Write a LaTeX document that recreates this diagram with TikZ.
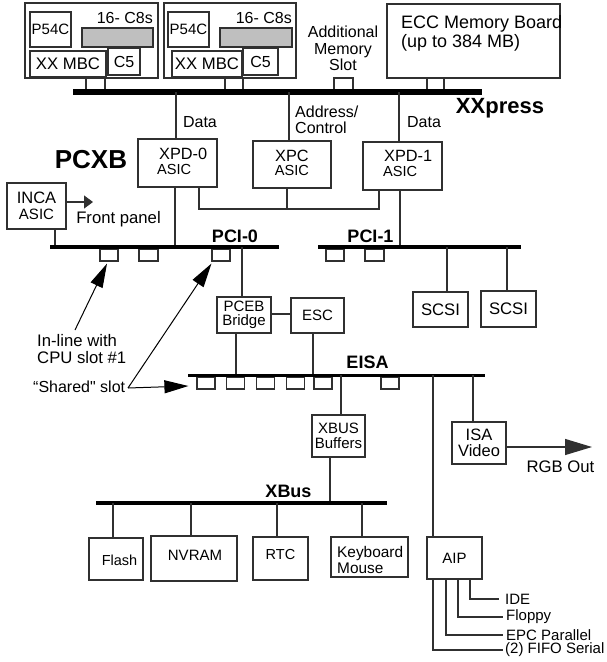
\documentclass[tikz,border=0pt]{standalone}
\usepackage{fontspec}
\setmainfont{Liberation Sans}[Ligatures=TeXOff]
\usetikzlibrary{arrows.meta}
\definecolor{ln}{HTML}{303030}
\definecolor{barfill}{HTML}{BFBFBF}
\tikzset{
  box/.style={draw=ln, line width=1.2pt, inner sep=0pt, align=center},
  slot/.style={draw=ln, line width=1.2pt, inner sep=0pt, minimum width=18pt, minimum height=12pt},
  wire/.style={draw=ln, line width=1.2pt},
  bus/.style={draw=black, line width=3.3pt},
  txt/.style={inner sep=0pt, align=left},
  ctxt/.style={inner sep=0pt, align=center},
  fa/.style={font=\fontsize{15}{14.5}\selectfont},
  fb/.style={font=\fontsize{16}{16.5}\selectfont},
  fc/.style={font=\fontsize{16.7}{17}\selectfont},
  fd/.style={font=\fontsize{18}{19}\selectfont},
  busname/.style={inner sep=0pt, font=\bfseries\fontsize{18}{18}\selectfont},
  annot/.style={draw=black, line width=1pt, -{Triangle[length=24pt,width=13pt]}},
}
\begin{document}
\begin{tikzpicture}[x=1pt,y=-1pt]
\useasboundingbox (0,0) rectangle (606,662);
\fill[white] (0,0) rectangle (606,662);

% ---------- CPU boards ----------
\node[box, minimum width=133pt, minimum height=75pt] (brd1) at (91.5,40.5) {};
\node[box, fa, minimum width=41pt, minimum height=35pt] (p1) at (50.5,29.5) {P54C};
\node[draw=ln, fill=barfill, line width=1.2pt, inner sep=0pt, minimum width=71pt, minimum height=19pt] (g1) at (117.5,37.5) {};
\node[txt, fb, anchor=east] (c8a) at (153,18) {16- C8s};
\node[box, fc, minimum width=76pt, minimum height=26pt] (mbc1) at (68,64) {XX MBC};
\node[box, fb, minimum width=32pt, minimum height=27pt] (c5a) at (124,61.5) {C5};
\node[slot, minimum width=19pt] (s1) at (95.5,84) {};

\node[box, minimum width=132pt, minimum height=75pt] (brd2) at (230,40.5) {};
\node[box, fa, minimum width=41pt, minimum height=35pt] (p2) at (188.5,29.5) {P54C};
\node[draw=ln, fill=barfill, line width=1.2pt, inner sep=0pt, minimum width=72pt, minimum height=19pt] (g2) at (256,37.5) {};
\node[txt, fb, anchor=east] (c8b) at (292,18) {16- C8s};
\node[box, fc, minimum width=70pt, minimum height=26pt] (mbc2) at (207,64) {XX MBC};
\node[box, fb, minimum width=35pt, minimum height=27pt] (c5b) at (260.5,61.5) {C5};
\node[slot, minimum width=18pt] (s2) at (234,84) {};

\node[ctxt, fb] (addl) at (343,48.5) {Additional\\Memory\\Slot};
\node[slot, minimum width=19pt] (s3) at (343.5,84) {};

\node[box, minimum width=173pt, minimum height=74pt] (ecc) at (473.5,41) {};
\node[txt, fd, anchor=west] (ecct) at (401,33.5) {ECC Memory Board\\(up to 384 MB)};
\node[slot, minimum width=17pt] (s4) at (435.5,84) {};

% ---------- XXpress bus ----------
\coordinate (xxA) at (73,92);
\coordinate (xxB) at (482,92);
\draw[bus, line width=5.5pt] (xxA) -- (xxB);
\node[inner sep=0pt, font=\bfseries\fontsize{22}{22}\selectfont] (xxname) at (500,108) {XXpress};

% ---------- PCXB ASICs ----------
\node[inner sep=0pt, font=\bfseries\fontsize{26}{26}\selectfont] (pcxb) at (91,160) {PCXB};

\node[box, minimum width=79pt, minimum height=48pt] (xpd0) at (177.5,163) {};
\node[txt, font=\fontsize{16.3}{16.5}\selectfont, anchor=west] (xpd0a) at (159,154) {XPD-0};
\node[txt, font=\fontsize{14.6}{14.6}\selectfont, anchor=west] (xpd0b) at (157,169) {ASIC};

\node[box, minimum width=78pt, minimum height=47pt] (xpc) at (292,164.5) {};
\node[ctxt, font=\fontsize{16.3}{16.5}\selectfont] (xpca) at (292,155.5) {XPC};
\node[ctxt, font=\fontsize{14.6}{14.6}\selectfont] (xpcb) at (292,170) {ASIC};

\node[box, minimum width=79pt, minimum height=48pt] (xpd1) at (402.5,166) {};
\node[txt, font=\fontsize{16.3}{16.5}\selectfont, anchor=west] (xpd1a) at (384,155.5) {XPD-1};
\node[txt, font=\fontsize{14.6}{14.6}\selectfont, anchor=west] (xpd1b) at (383,171) {ASIC};

\node[ctxt, fb] (data0) at (200,122) {Data};
\node[txt, fb, anchor=west] (addr) at (295,120) {Address/\\Control};
\node[ctxt, fb] (data1) at (424,122) {Data};

\draw[wire] ([xshift=-1.5pt]xpd0.north) -- ([xshift=-1.5pt]xpd0.north |- xxA);
\draw[wire] ([xshift=-3pt]xpc.north) -- ([xshift=-3pt]xpc.north |- xxA);
\draw[wire] ([xshift=-3.5pt]xpd1.north) -- ([xshift=-3.5pt]xpd1.north |- xxA);

\coordinate (icy) at (0,209);
\draw[wire] ([xshift=21.5pt]xpd0.south) -- ([xshift=21.5pt]xpd0.south |- icy)
  -- ([xshift=-23.5pt]xpd1.south |- icy) -- ([xshift=-23.5pt]xpd1.south);
\draw[wire] ([xshift=-5pt]xpc.south) -- ([xshift=-5pt]xpc.south |- icy);

% ---------- INCA ----------
\node[box, font=\fontsize{16.5}{16.5}\selectfont, minimum width=59pt, minimum height=46pt] (inca) at (36.5,206) {INCA\\{\fontsize{15}{15}\selectfont ASIC}};
\coordinate (fpend) at (93,202);
\draw[wire, -{Triangle[length=9pt,width=13pt]}] ([yshift=4pt]inca.east) -- (fpend);
\node[ctxt, fc] (fpanel) at (118.5,219) {Front panel};

% ---------- PCI buses ----------
\coordinate (p0A) at (50,247);
\coordinate (p0B) at (279,247);
\coordinate (p1A) at (318,247);
\coordinate (p1B) at (521,247);

\draw[wire] ([xshift=-2.5pt]xpd0.south) -- ([xshift=-2.5pt]xpd0.south |- p0A);
\draw[wire] ([xshift=-2.5pt]xpd1.south) -- ([xshift=-2.5pt]xpd1.south |- p1A);
\draw[wire] ([xshift=18.5pt]inca.south) -- ([xshift=18.5pt]inca.south |- p0A);

\node[slot] (pa) at (109,255) {};
\node[slot, minimum width=19pt] (pb) at (148.5,255) {};
\node[slot] (pc) at (221,255) {};
\node[slot] (pd) at (335,255) {};
\node[slot, minimum width=19pt] (pe) at (374.5,255) {};

\draw[bus] (p0A) -- (p0B);
\draw[bus] (p1A) -- (p1B);
\node[busname] (pci0) at (235,236) {PCI-0};
\node[busname] (pci1) at (370.5,236.5) {PCI-1};

\node[box, fc, minimum width=55pt, minimum height=35pt] (scsi1) at (440.5,309.5) {SCSI};
\node[box, fc, minimum width=55pt, minimum height=36pt] (scsi2) at (508.5,309) {SCSI};
\draw[wire] ([xshift=6.5pt]scsi1.north) -- ([xshift=6.5pt]scsi1.north |- p1A);
\draw[wire] ([xshift=-1.5pt]scsi2.north) -- ([xshift=-1.5pt]scsi2.north |- p1A);

% ---------- PCEB / ESC ----------
\node[box, font=\fontsize{15}{14.5}\selectfont, minimum width=54pt, minimum height=36pt] (pceb) at (244,315) {PCEB\\Bridge};
\node[box, fa, minimum width=53pt, minimum height=35pt] (esc) at (317.5,315.5) {ESC};
\draw[wire] ([xshift=-2pt]pceb.north) -- ([xshift=-2pt]pceb.north |- p0A);
\draw[wire] ([yshift=1pt]pceb.east) -- ([yshift=1pt]pceb.east -| esc.west);

% ---------- EISA ----------
\coordinate (eA) at (188,375);
\coordinate (eB) at (485,375);
\draw[wire] ([xshift=-8pt]pceb.south) -- ([xshift=-8pt]pceb.south |- eA);
\draw[wire] ([xshift=-4.5pt]esc.south) -- ([xshift=-4.5pt]esc.south |- eA);

\node[slot] (es1) at (206,383) {};
\node[slot] (es2) at (235.5,383) {};
\node[slot] (es3) at (265.5,383) {};
\node[slot] (es4) at (295.5,383) {};
\node[slot] (es5) at (323,383) {};
\node[slot] (es6) at (390,383) {};
\draw[bus, line width=3pt] (eA) -- (eB);
\node[busname] (eisa) at (367.5,362) {EISA};

\node[box, font=\fontsize{15}{14.5}\selectfont, minimum width=53pt, minimum height=42pt] (xbuf) at (338.5,436) {XBUS\\Buffers};
\draw[wire] ([xshift=2.5pt]xbuf.north) -- ([xshift=2.5pt]xbuf.north |- eA);

\node[box, font=\fontsize{16.5}{15.5}\selectfont, minimum width=54pt, minimum height=42pt] (isa) at (479,443) {ISA\\Video};
\draw[wire] ([xshift=-6pt]isa.north) -- ([xshift=-6pt]isa.north |- eA);
\coordinate (rgbend) at (592,447);
\draw[wire, -{Triangle[length=27pt,width=16pt]}] ([yshift=-4pt]isa.east) -- (rgbend);
\node[ctxt, fc] (rgb) at (560.5,467) {RGB Out};

\node[box, fa, minimum width=55pt, minimum height=42pt] (aip) at (454.5,558) {AIP};
\draw[wire] ([xshift=-21.5pt]aip.north) -- ([xshift=-21.5pt]aip.north |- eA);

% ---------- XBus ----------
\coordinate (xbA) at (96,503);
\coordinate (xbB) at (387,503);
\draw[wire] ([xshift=-8.5pt]xbuf.south) -- ([xshift=-8.5pt]xbuf.south |- xbA);
\draw[bus] (xbA) -- (xbB);
\node[busname] (xbus) at (288.5,491) {XBus};

\node[box, minimum width=54pt, minimum height=42pt] (flash) at (116,559) {};
\node[ctxt, font=\fontsize{14.5}{14.5}\selectfont] (flasht) at (119.5,560) {Flash};
\node[box, minimum width=86pt, minimum height=45pt] (nvram) at (194,558.5) {};
\node[ctxt, fa] (nvramt) at (195,555) {NVRAM};
\node[box, minimum width=55pt, minimum height=43pt] (rtc) at (280.5,558.5) {};
\node[ctxt, font=\fontsize{14.5}{14.5}\selectfont] (rtct) at (280.5,555) {RTC};
\node[box, minimum width=77pt, minimum height=40pt] (kbd) at (369.5,557) {};
\node[txt, font=\fontsize{15.4}{15.5}\selectfont, anchor=west] (kbdt) at (337,560) {Keyboard\\Mouse};

\draw[wire] ([xshift=-3pt]flash.north) -- ([xshift=-3pt]flash.north |- xbA);
\draw[wire] ([xshift=-3pt]nvram.north) -- ([xshift=-3pt]nvram.north |- xbA);
\draw[wire] ([xshift=-3.5pt]rtc.north) -- ([xshift=-3.5pt]rtc.north |- xbA);
\draw[wire] ([xshift=-7.5pt]kbd.north) -- ([xshift=-7.5pt]kbd.north |- xbA);

% ---------- AIP outputs ----------
\node[txt, fa, anchor=west] (ide) at (505,599) {IDE};
\node[txt, fa, anchor=west] (flop) at (506,617) {Floppy};
\node[txt, fa, anchor=west] (epc) at (506,635) {EPC Parallel};
\node[txt, fa, anchor=west] (fifo) at (505,650) {(2) FIFO Serial};
\draw[wire] ([xshift=15.5pt]aip.south) |- ([xshift=-6pt]ide.west);
\draw[wire] ([xshift=3.5pt]aip.south) |- ([xshift=-3pt]flop.west);
\draw[wire] ([xshift=-8.5pt]aip.south) |- ([xshift=-3pt]epc.west);
\draw[wire] ([xshift=-21.5pt]aip.south) |- ([xshift=-2pt]fifo.west);

% ---------- annotations ----------
\node[txt, fc, anchor=west] (inl) at (37,349) {In-line with\\CPU slot \#1};
\coordinate (inlS) at (75,330);
\draw[annot] (inlS) -- ([xshift=-2pt,yshift=-2pt]pa.south);

\node[txt, fb, anchor=west] (shared) at (33,387) {“Shared" slot};
\coordinate (shS) at (128,388);
\draw[annot] (shS) -- ([yshift=-2pt]pc.south west);
\draw[annot] (shS) -- ([xshift=-8pt,yshift=-3pt]es1.west);

\end{tikzpicture}
\end{document}
